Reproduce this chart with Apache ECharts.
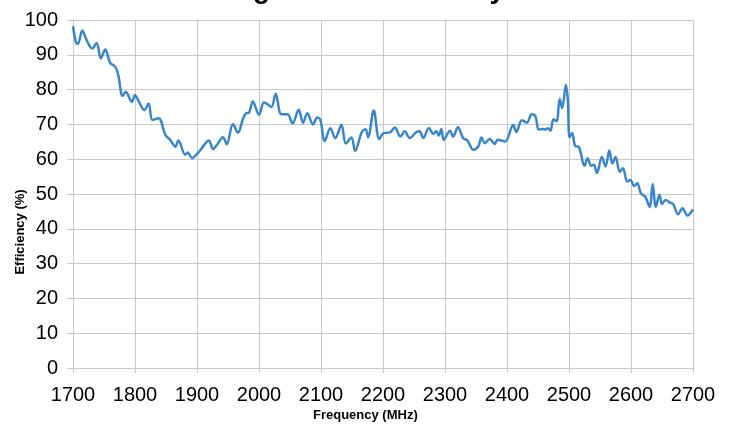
<!DOCTYPE html>
<html>
<head>
<meta charset="utf-8">
<script src="https://cdn.jsdelivr.net/npm/echarts@6/dist/echarts.min.js"></script>
<style>html,body{margin:0;padding:0;background:#fff;}#c{width:730px;height:427px;}</style>
</head>
<body>
<div id="c"></div>
<script>
var titleText = 'High Band Efficiency';
var xAxisName = 'Frequency (MHz)';
var yAxisName = 'Efficiency (%)';
var xTicks = [1700, 1800, 1900, 2000, 2100, 2200, 2300, 2400, 2500, 2600, 2700];
var yTicks = [0, 10, 20, 30, 40, 50, 60, 70, 80, 90, 100];
var freqs = [1700,1705,1708,1715,1722,1731,1738,1745,1752,1760,1768,1773,1780,1785,1795,1800,1805,1815,1822,1828,1838,1849,1857,1865,1870,1881,1885,1892,1899,1906,1919,1926,1932,1942,1948,1958,1966,1974,1979,1984,1990,2000,2008,2013,2020,2027,2036,2046,2054,2064,2071,2078,2087,2094,2099,2106,2115,2123,2133,2140,2149,2155,2166,2172,2176,2185,2194,2201,2211,2219,2228,2235,2243,2254,2259,2265,2274,2281,2286,2290,2294,2298,2308,2313,2321,2329,2336,2346,2354,2359,2364,2372,2380,2385,2397,2410,2415,2424,2432,2440,2446,2451,2457,2462,2466,2470,2475,2480,2485,2489,2495,2498,2501,2505,2510,2516,2525,2530,2536,2540,2545,2553,2559,2565,2570,2575,2582,2587,2594,2599,2605,2610,2616,2623,2630,2635,2640,2646,2650,2656,2663,2668,2676,2683,2691,2700];
var effs = [98.2,93.4,93.2,97,94.2,91.8,93.4,89,91.5,87.7,86.6,84.2,78.2,79.4,76.5,78.4,77,74.1,76,71.3,71.8,67,65.5,63.6,65.4,61.3,61.9,60.3,61.3,62.7,65.4,62.9,64.1,66.3,64.3,70.1,67.6,71.5,73.2,73.4,76.6,72.8,76.3,75.9,75,78.8,72.9,72.9,70.3,74.2,70.5,73.2,70,72,71.3,65.2,68.9,66,69.9,64.5,66.2,62.4,67.9,68.6,66.3,74,65.8,67.5,67.7,69.1,66.5,68,66.1,67.8,68,66.1,69,67.3,68,66.8,68.7,65.6,68.2,66.5,69.2,66.1,65.4,62.7,63.8,66.2,64.6,65.8,64.4,65.6,65.1,69.8,67.8,71.2,70.5,72.9,72.3,68.5,68.7,68.5,68.9,68.2,71.5,70.9,77.3,74.7,81.4,77.1,66.3,67.5,63.8,63.5,58.1,60.3,58.1,58.4,56,60.6,57.9,62.5,58.8,60.6,56.4,57.4,53.6,54,52.3,53.1,50.2,49.2,46.3,52.9,46.3,49.7,47.1,48.3,47.5,47.1,44.2,45.9,43.8,45.6];

var data = freqs.map(function (f, i) { return [f, effs[i]]; });
var labelFont = "'Liberation Sans', Arial, sans-serif";
var gridColor = '#c8c8c8';

var chart = echarts.init(document.getElementById('c'), null, { renderer: 'canvas' });
chart.setOption({
  animation: false,
  backgroundColor: '#ffffff',
  title: {
    text: titleText,
    left: 'center',
    top: -29,
    textStyle: { fontFamily: "'Liberation Sans', Arial, sans-serif", fontWeight: 'bold', fontSize: 28, color: '#000' }
  },
  grid: { left: 73, right: 37, top: 20, bottom: 59, containLabel: false },
  xAxis: {
    type: 'value',
    min: xTicks[0],
    max: xTicks[xTicks.length - 1],
    interval: 100,
    axisLine: { show: true, lineStyle: { color: gridColor, width: 1 } },
    axisTick: { show: true, inside: false, length: 5, lineStyle: { color: gridColor } },
    axisLabel: { margin: 17, fontSize: 20, color: '#000', fontFamily: labelFont, formatter: function (v) { return String(v); } },
    splitLine: { show: true, lineStyle: { color: gridColor, width: 1 } }
  },
  yAxis: {
    type: 'value',
    min: yTicks[0],
    max: yTicks[yTicks.length - 1],
    interval: 10,
    axisLine: { show: true, lineStyle: { color: gridColor, width: 1 } },
    axisTick: { show: true, inside: false, length: 6, lineStyle: { color: gridColor } },
    axisLabel: { margin: 15, fontSize: 20, color: '#000', fontFamily: labelFont, formatter: function (v) { return String(v); } },
    splitLine: { show: true, lineStyle: { color: gridColor, width: 1 } }
  },
  graphic: [
    { type: 'text', left: 370 - 57, top: 409, style: { text: xAxisName, font: "bold 13px 'Liberation Sans', Arial, sans-serif", fill: '#000' } },
    { type: 'text', x: 20, y: 232, rotation: Math.PI / 2, style: { text: yAxisName, font: "bold 13px 'Liberation Sans', Arial, sans-serif", fill: '#000', align: 'center', verticalAlign: 'middle' } }
  ],
  series: [{
    type: 'line',
    data: data,
    smooth: 0.35,
    showSymbol: false,
    lineStyle: { color: '#3a86c8', width: 2.5 },
    itemStyle: { color: '#3a86c8' }
  }]
});
</script>
</body>
</html>
